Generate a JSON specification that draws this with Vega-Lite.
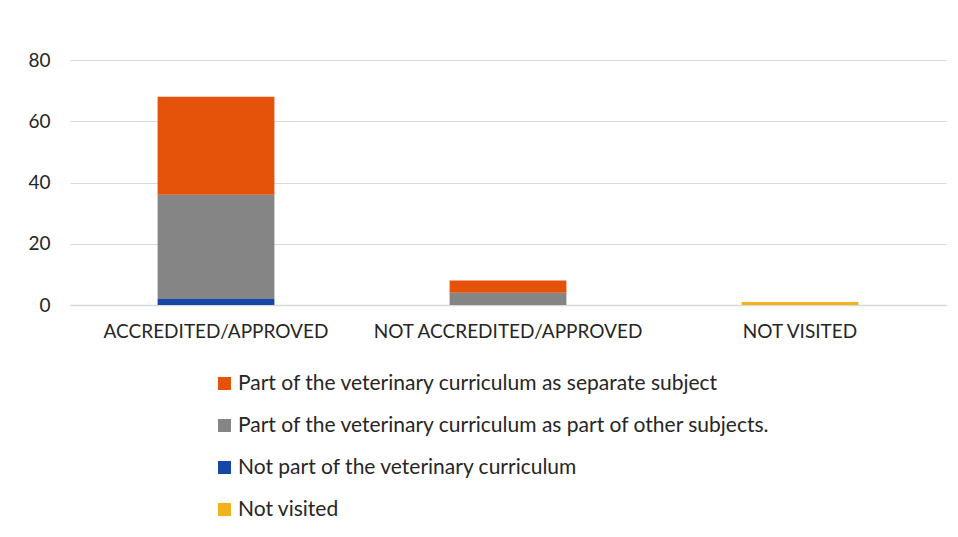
{
  "$schema": "https://vega.github.io/schema/vega-lite/v6.json",
  "width": 876,
  "height": 245,
  "autosize": "none",
  "padding": {"left": 70, "top": 60, "right": 12, "bottom": 232},
  "background": "white",
  "config": {
    "view": {"stroke": null},
    "font": "Lato",
    "axis": {"labelFont": "Lato", "labelColor": "#262626", "labelFontSize": 19, "labelLimit": 0}
  },
  "data": {
    "values": [
      {"category": "ACCREDITED/APPROVED", "series": "Not part of the veterinary curriculum", "value": 2, "ord": 1},
      {"category": "ACCREDITED/APPROVED", "series": "Part of the veterinary curriculum as part of other subjects.", "value": 34, "ord": 2},
      {"category": "ACCREDITED/APPROVED", "series": "Part of the veterinary curriculum as separate subject", "value": 32, "ord": 3},
      {"category": "NOT ACCREDITED/APPROVED", "series": "Part of the veterinary curriculum as part of other subjects.", "value": 4, "ord": 2},
      {"category": "NOT ACCREDITED/APPROVED", "series": "Part of the veterinary curriculum as separate subject", "value": 4, "ord": 3},
      {"category": "NOT VISITED", "series": "Not visited", "value": 1, "ord": 4}
    ]
  },
  "mark": {"type": "bar"},
  "encoding": {
    "x": {
      "field": "category", "type": "nominal", "sort": null,
      "scale": {"paddingInner": 0.6, "paddingOuter": 0.3},
      "axis": {"title": null, "labelAngle": 0, "ticks": false, "domainColor": "#d9d9d9", "domainWidth": 1.5, "labelPadding": 17}
    },
    "y": {
      "field": "value", "type": "quantitative", "stack": "zero",
      "scale": {"domain": [0, 80]},
      "axis": {"title": null, "values": [0, 20, 40, 60, 80], "domain": false, "ticks": false, "gridColor": "#d9d9d9", "gridWidth": 1.2, "labelPadding": 20}
    },
    "color": {
      "field": "series", "type": "nominal",
      "scale": {
        "domain": ["Part of the veterinary curriculum as separate subject", "Part of the veterinary curriculum as part of other subjects.", "Not part of the veterinary curriculum", "Not visited"],
        "range": ["#E5530A", "#858585", "#1747A6", "#F2B21C"]
      },
      "legend": {
        "title": null, "orient": "none", "legendX": 144, "legendY": 313, "direction": "vertical",
        "symbolType": "square", "symbolSize": 169, "symbolStrokeWidth": 0, "symbolOpacity": 1,
        "labelFontSize": 21, "labelColor": "#262626", "labelFont": "Lato", "labelLimit": 0, "rowPadding": 20, "labelOffset": 3
      }
    },
    "order": {"field": "ord", "type": "quantitative"}
  }
}
